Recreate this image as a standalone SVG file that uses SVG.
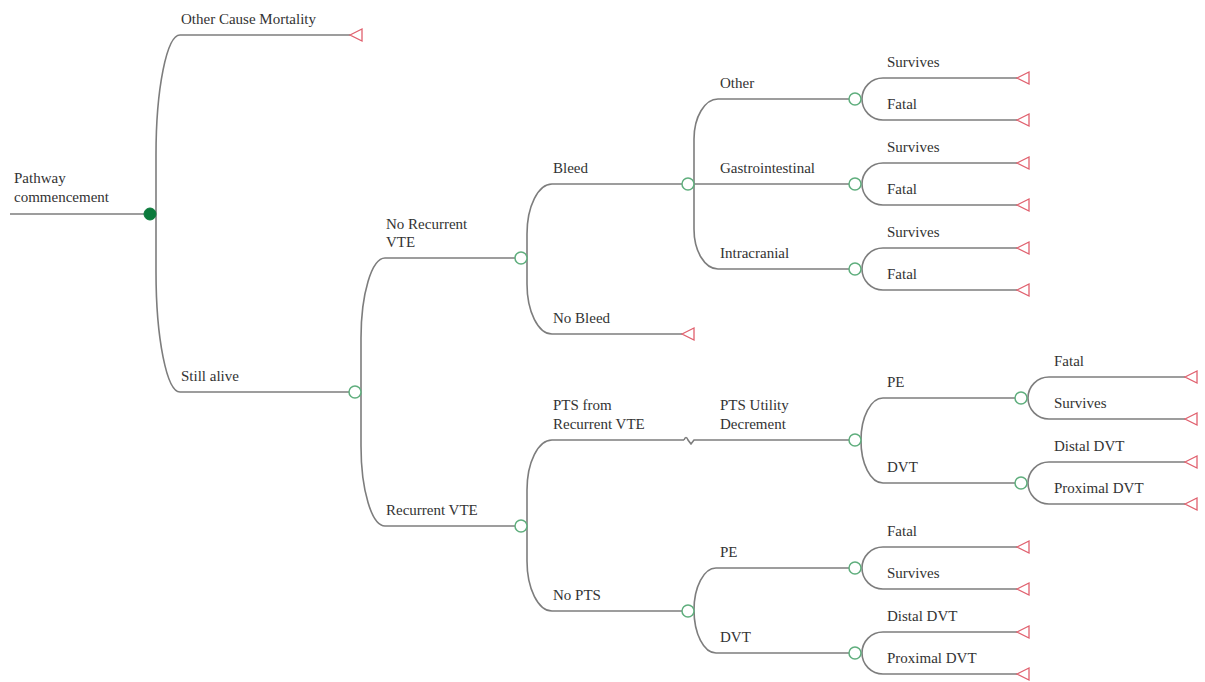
<svg xmlns="http://www.w3.org/2000/svg" width="1205" height="682" viewBox="0 0 1205 682">
<defs>
<style>
.c{fill:none;stroke:#7d7d7d;stroke-width:1.6}
.ch{fill:#fff;stroke:#5fae7d;stroke-width:1.5}
.rt{fill:#0b7a3c;stroke:#0b7a3c;stroke-width:1}
.tm{fill:#fff;stroke:#e0606e;stroke-width:1.3}
.t text{font-size:15px;fill:#333}
</style>
</defs>
<rect width="1205" height="682" fill="#fff"/>
<g id="connectors">
<path class="c" d="M10,214 H144"/>
<path class="c" d="M350,35 H180 A24 120 0 0 0 156,155 V272 A24 120 0 0 0 180,392 H349"/>
<path class="c" d="M515,258 H385 A24 80 0 0 0 361,338 V446 A24 80 0 0 0 385,526 H515"/>
<path class="c" d="M682,184 H552 A25 50 0 0 0 527,234 V284 A25 50 0 0 0 552,334 H682"/>
<path class="c" d="M849,99 H718 A24 40 0 0 0 694,139 V229 A24 40 0 0 0 718,269 H849"/>
<path class="c" d="M694,184 H849"/>
<path class="c" d="M1017,78 H883 A21 21 0 0 0 883,120 H1017"/>
<path class="c" d="M1017,163 H883 A21 21 0 0 0 883,205 H1017"/>
<path class="c" d="M1017,248 H883 A21 21 0 0 0 883,290 H1017"/>
<path class="c" d="M684,440 H552 A25 50 0 0 0 527,490 V561 A25 50 0 0 0 552,611 H682"/>
<path class="c" d="M684,440 Q686,435 688,440 L691,444 L694,440 H849"/>
<path class="c" d="M1015,398 H883 A22 42 0 0 0 861,440 A22 42 0 0 0 883,483 H1015"/>
<path class="c" d="M1185,377 H1049 A21 21 0 0 0 1049,419 H1185"/>
<path class="c" d="M1185,462 H1049 A21 21 0 0 0 1049,504 H1185"/>
<path class="c" d="M849,568 H716 A22 42 0 0 0 694,610 A22 43 0 0 0 716,653 H849"/>
<path class="c" d="M1017,547 H883 A21 21 0 0 0 883,589 H1017"/>
<path class="c" d="M1017,632 H883 A21 21 0 0 0 883,674 H1017"/>
</g>
<g class="t" font-family="'Liberation Serif', 'Times New Roman', 'DejaVu Serif', serif">
<g id="root"><circle class="rt" cx="150" cy="214" r="6"/><text x="14" y="183">Pathway</text><text x="14" y="202">commencement</text></g>
<g id="other_cause_mortality"><polygon class="tm" points="350,35 362,29 362,41"/><text x="181" y="24">Other Cause Mortality</text></g>
<g id="still_alive"><circle class="ch" cx="355" cy="392" r="6"/><text x="181" y="381">Still alive</text></g>
<g id="no_recurrent_vte"><circle class="ch" cx="521" cy="258" r="6"/><text x="386" y="229">No Recurrent</text><text x="386" y="247">VTE</text></g>
<g id="recurrent_vte"><circle class="ch" cx="521" cy="526" r="6"/><text x="386" y="515">Recurrent VTE</text></g>
<g id="bleed"><circle class="ch" cx="688" cy="184" r="6"/><text x="553" y="173">Bleed</text></g>
<g id="no_bleed"><polygon class="tm" points="682,334 694,328 694,340"/><text x="553" y="323">No Bleed</text></g>
<g id="bleed_other"><circle class="ch" cx="855" cy="99" r="6"/><text x="720" y="88">Other</text></g>
<g id="bleed_gi"><circle class="ch" cx="855" cy="184" r="6"/><text x="720" y="173">Gastrointestinal</text></g>
<g id="bleed_ic"><circle class="ch" cx="855" cy="269" r="6"/><text x="720" y="258">Intracranial</text></g>
<g id="other_survives"><polygon class="tm" points="1017,78 1029,72 1029,84"/><text x="887" y="67">Survives</text></g>
<g id="other_fatal"><polygon class="tm" points="1017,120 1029,114 1029,126"/><text x="887" y="109">Fatal</text></g>
<g id="gi_survives"><polygon class="tm" points="1017,163 1029,157 1029,169"/><text x="887" y="152">Survives</text></g>
<g id="gi_fatal"><polygon class="tm" points="1017,205 1029,199 1029,211"/><text x="887" y="194">Fatal</text></g>
<g id="ic_survives"><polygon class="tm" points="1017,248 1029,242 1029,254"/><text x="887" y="237">Survives</text></g>
<g id="ic_fatal"><polygon class="tm" points="1017,290 1029,284 1029,296"/><text x="887" y="279">Fatal</text></g>
<g id="pts_from_recurrent"><text x="553" y="410">PTS from</text><text x="553" y="429">Recurrent VTE</text></g>
<g id="pts_utility"><circle class="ch" cx="855" cy="440" r="6"/><text x="720" y="410">PTS Utility</text><text x="720" y="429">Decrement</text></g>
<g id="pts_pe"><circle class="ch" cx="1021" cy="398" r="6"/><text x="887" y="387">PE</text></g>
<g id="pts_dvt"><circle class="ch" cx="1021" cy="483" r="6"/><text x="887" y="472">DVT</text></g>
<g id="pts_pe_fatal"><polygon class="tm" points="1185,377 1197,371 1197,383"/><text x="1054" y="366">Fatal</text></g>
<g id="pts_pe_survives"><polygon class="tm" points="1185,419 1197,413 1197,425"/><text x="1054" y="408">Survives</text></g>
<g id="pts_dvt_distal"><polygon class="tm" points="1185,462 1197,456 1197,468"/><text x="1054" y="451">Distal DVT</text></g>
<g id="pts_dvt_proximal"><polygon class="tm" points="1185,504 1197,498 1197,510"/><text x="1054" y="493">Proximal DVT</text></g>
<g id="no_pts"><circle class="ch" cx="688" cy="611" r="6"/><text x="553" y="600">No PTS</text></g>
<g id="nopts_pe"><circle class="ch" cx="855" cy="568" r="6"/><text x="720" y="557">PE</text></g>
<g id="nopts_dvt"><circle class="ch" cx="855" cy="653" r="6"/><text x="720" y="642">DVT</text></g>
<g id="nopts_pe_fatal"><polygon class="tm" points="1017,547 1029,541 1029,553"/><text x="887" y="536">Fatal</text></g>
<g id="nopts_pe_survives"><polygon class="tm" points="1017,589 1029,583 1029,595"/><text x="887" y="578">Survives</text></g>
<g id="nopts_dvt_distal"><polygon class="tm" points="1017,632 1029,626 1029,638"/><text x="887" y="621">Distal DVT</text></g>
<g id="nopts_dvt_proximal"><polygon class="tm" points="1017,674 1029,668 1029,680"/><text x="887" y="663">Proximal DVT</text></g>
</g>
</svg>
